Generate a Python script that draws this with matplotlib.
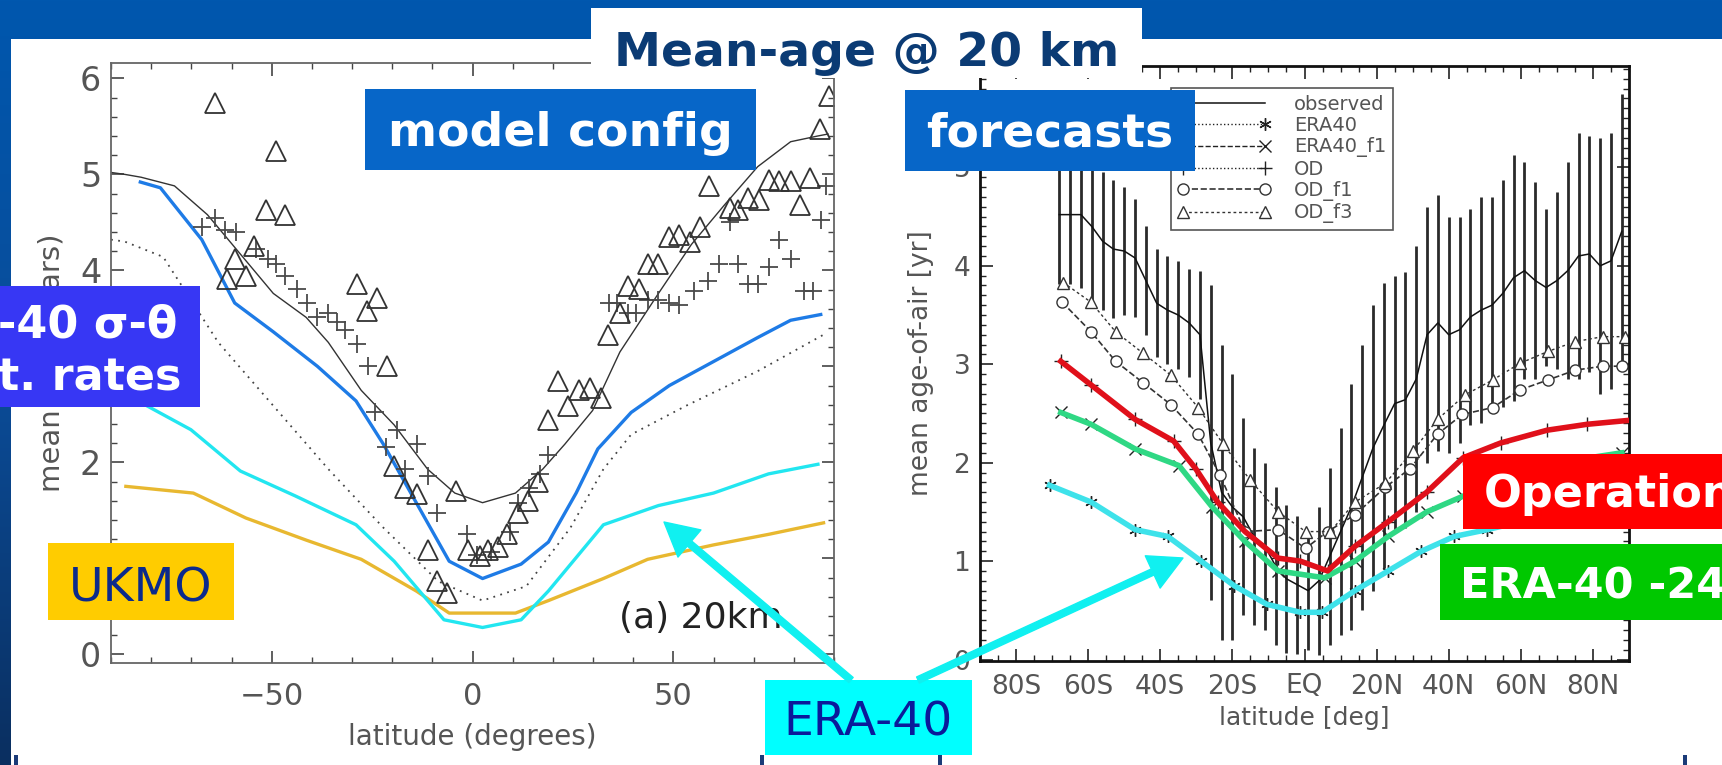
import matplotlib.pyplot as plt
import numpy as np
from matplotlib.colors import LinearSegmentedColormap
from matplotlib.patches import FancyArrowPatch, Rectangle
from matplotlib.ticker import FixedLocator, MultipleLocator

plt.rcParams["font.family"] = ["DejaVu Sans", "Noto Sans"]

W, H = 1722, 765

# ---- left panel: model configurations (lat in degrees, mean age in years)
cfg_black_lat = [-90, -86.6, -82.5, -74.2, -66.0, -57.8, -49.6, -41.4, -35.9, -27.7, -19.5, -11.2,
                 -4.4, 2.5, 10.7, 17.5, 23.0, 29.9, 36.7, 46.3, 54.5, 62.7, 71.0, 79.2, 86.0, 88.5]
cfg_black_val = [5.02, 5.00, 4.97, 4.88, 4.58, 4.17, 3.76, 3.51, 3.25, 2.75, 2.39, 1.93,
                 1.68, 1.58, 1.68, 1.93, 2.19, 2.54, 3.15, 3.76, 4.27, 4.68, 5.08, 5.34, 5.40, 5.42]

cfg_dot_lat = [-90, -86.6, -77.0, -63.3, -49.6, -35.9, -22.2, -8.5, 2.5, 13.4, 24.4, 32.6, 39.5, 53.2, 71.0, 87.4]
cfg_dot_val = [4.32, 4.30, 4.14, 3.25, 2.59, 1.93, 1.32, 0.76, 0.56, 0.71, 1.32, 1.93, 2.29, 2.59, 2.95, 3.33]

cfg_blue_lat = [-82.7, -77.7, -67.4, -59.2, -49.6, -38.6, -29.0, -22.2, -14.0, -5.8, 2.5, 12.1,
                18.9, 25.8, 31.2, 39.5, 49.0, 60.0, 71.0, 79.2, 86.7]
cfg_blue_val = [4.92, 4.86, 4.32, 3.66, 3.36, 3.00, 2.64, 2.19, 1.58, 0.97, 0.79, 0.94,
                1.17, 1.68, 2.14, 2.52, 2.80, 3.05, 3.30, 3.48, 3.54]

cfg_cyan_lat = [-86.0, -81.1, -70.1, -57.8, -44.1, -29.0, -19.5, -7.1, 2.5, 12.1, 18.9, 32.6, 46.3, 60.0, 73.7, 86.0]
cfg_cyan_val = [2.75, 2.59, 2.34, 1.91, 1.65, 1.35, 0.97, 0.36, 0.28, 0.36, 0.66, 1.35, 1.55, 1.68, 1.88, 1.98]

cfg_ukmo_lat = [-86.3, -69.5, -56.4, -41.4, -27.7, -14.0, -5.8, 10.7, 18.9, 32.6, 43.6, 60.0, 73.7, 87.4]
cfg_ukmo_val = [1.75, 1.68, 1.42, 1.19, 0.99, 0.66, 0.43, 0.43, 0.56, 0.79, 0.99, 1.14, 1.25, 1.37]

obs_tri_lat = [-64.0, -48.9, -51.4, -46.6, -59.2, -61.2, -56.4, -54.4, -28.8, -23.8, -26.3, -21.2,
               -19.5, -16.7, -13.7, -11.2, -8.9, -6.4, -4.0, -1.0, 1.8, 3.8, 6.3, 8.6, 11.4, 13.7,
               16.2, 18.9, 21.4, 23.7, 26.4, 29.2, 31.9, 33.7, 36.7, 38.8, 41.5, 43.6, 46.3, 49.0,
               51.5, 54.2, 56.6, 58.9, 64.1, 66.2, 68.6, 71.4, 73.7, 76.4, 79.2, 81.6, 84.0, 86.4, 88.8]
obs_tri_val = [5.74, 5.24, 4.63, 4.58, 4.12, 3.91, 3.94, 4.25, 3.86, 3.71, 3.58, 3.00,
               1.96, 1.73, 1.67, 1.09, 0.76, 0.64, 1.70, 1.09, 1.02, 1.09, 1.12, 1.25, 1.47, 1.60,
               1.80, 2.44, 2.85, 2.59, 2.75, 2.77, 2.67, 3.33, 3.56, 3.84, 3.81, 4.07, 4.07, 4.35,
               4.37, 4.30, 4.45, 4.88, 4.65, 4.63, 4.75, 4.73, 4.94, 4.93, 4.93, 4.68, 4.96, 5.47, 5.82]

obs_plus_lat = [-67.4, -64.0, -61.6, -58.9, -54.0, -51.0, -48.9, -46.6, -43.8, -41.1, -38.6, -35.9,
                -33.8, -31.8, -28.8, -26.0, -24.2, -21.5, -18.8, -16.7, -13.7, -11.2, -8.8, -1.4,
                1.1, 4.5, 9.3, 11.4, 14.1, 16.8, 18.9, 34.0, 36.0, 38.8, 40.8, 43.6, 46.3, 49.0,
                51.5, 55.2, 58.6, 61.4, 64.1, 66.2, 68.5, 71.0, 73.7, 76.4, 79.2, 82.6, 84.7, 86.7, 88.1]
obs_plus_val = [4.45, 4.55, 4.42, 4.40, 4.22, 4.12, 4.07, 3.94, 3.81, 3.66, 3.51, 3.56,
                3.46, 3.38, 3.23, 3.00, 2.52, 2.16, 2.34, 1.93, 2.19, 1.86, 1.47, 1.25,
                1.04, 1.07, 1.27, 1.58, 1.73, 1.88, 2.08, 3.66, 3.66, 3.56, 3.56, 3.69, 3.69, 3.66,
                3.64, 3.79, 3.89, 4.07, 4.50, 4.07, 3.86, 3.86, 4.04, 4.32, 4.12, 3.79, 3.79, 4.52, 4.88]

# ---- right panel: forecasts
obs_lat = [-68, -65, -62, -59, -56, -53, -50, -47, -44, -41, -38, -35, -32, -29, -26, -23, -20, -17,
           -14, -11, -8, -5, -2, 1, 4, 7, 10, 13, 16, 19, 22, 25, 28, 31, 34, 37, 40, 43, 46, 49,
           52, 55, 58, 61, 64, 67, 70, 73, 76, 79, 82, 85, 88]
obs_val = [4.52, 4.52, 4.52, 4.40, 4.25, 4.17, 4.15, 4.08, 3.85, 3.62, 3.55, 3.50, 3.42, 3.30, 2.20,
           1.70, 1.55, 1.45, 1.25, 1.15, 0.95, 0.82, 0.76, 0.70, 0.80, 1.05, 1.30, 1.55, 1.85, 2.15,
           2.38, 2.60, 2.64, 2.85, 3.30, 3.42, 3.30, 3.35, 3.48, 3.55, 3.60, 3.72, 3.88, 3.95, 3.85,
           3.78, 3.85, 3.95, 4.10, 4.12, 4.00, 4.05, 4.35]
obs_err = [0.70, 0.70, 0.75, 0.75, 0.70, 0.70, 0.65, 0.60, 0.55, 0.55, 0.55, 0.55, 0.55, 0.65, 1.60,
           1.50, 1.35, 1.00, 0.90, 0.85, 0.80, 0.75, 0.70, 0.60, 0.75, 0.90, 1.05, 1.25, 1.35, 1.45,
           1.45, 1.30, 1.30, 1.35, 1.30, 1.30, 1.20, 1.15, 1.10, 1.15, 1.10, 1.15, 1.25, 1.10, 1.00,
           0.80, 0.90, 1.10, 1.25, 1.20, 1.30, 1.30, 1.40]

era40_lat = [-70.7, -59.2, -47.0, -37.9, -28.7, -19.5, -10.4, -1.2, 4.9, 14.0, 23.2, 32.4, 41.5, 50.7, 60.0, 75.0, 88.0]
era40_val = [1.77, 1.60, 1.32, 1.25, 1.00, 0.75, 0.56, 0.48, 0.48, 0.70, 0.90, 1.10, 1.25, 1.32, 1.40, 1.50, 1.60]

era40f1_lat = [-67.6, -59.2, -47.0, -34.8, -25.6, -16.5, -7.3, 5.6, 14.0, 23.2, 33.9, 44.0, 55.0, 70.0, 88.0]
era40f1_val = [2.51, 2.39, 2.14, 1.97, 1.55, 1.20, 0.90, 0.83, 1.00, 1.25, 1.50, 1.66, 1.85, 2.00, 2.10]

od_lat = [-67.6, -59.2, -47.0, -36.3, -30.2, -24.1, -16.5, -7.3, -1.2, 6.4, 14.0, 23.2, 33.9, 44.0, 54.4, 67.3, 78.4, 90.0]
od_val = [3.03, 2.79, 2.44, 2.22, 1.94, 1.60, 1.30, 1.03, 1.00, 0.90, 1.15, 1.40, 1.70, 2.05, 2.20, 2.33, 2.39, 2.43]

odf1_lat = [-67.2, -59.2, -52.4, -44.7, -37.1, -29.5, -23.4, -16.5, -7.3, 0.3, 6.4, 14.0, 22.4, 29.3,
            36.9, 43.8, 52.2, 59.8, 67.5, 75.1, 82.7, 88.1]
odf1_val = [3.63, 3.33, 3.03, 2.81, 2.59, 2.29, 1.87, 1.30, 1.32, 1.13, 1.30, 1.47, 1.75, 1.94,
            2.29, 2.49, 2.56, 2.74, 2.84, 2.94, 2.98, 2.98]

odf3_lat = [-66.9, -59.2, -52.4, -44.7, -37.1, -29.5, -22.6, -15.0, -7.3, 0.3, 7.2, 14.0, 22.4, 30.1,
            36.9, 44.6, 52.2, 59.8, 67.5, 75.1, 82.7, 88.9]
odf3_val = [3.83, 3.63, 3.33, 3.11, 2.89, 2.56, 2.19, 1.82, 1.50, 1.30, 1.30, 1.60, 1.79, 2.12,
            2.44, 2.69, 2.84, 3.01, 3.13, 3.23, 3.28, 3.28]

right_ticks = [-80, -60, -40, -20, 0, 20, 40, 60, 80]
right_ticklabels = ["80S", "60S", "40S", "20S", "EQ", "20N", "40N", "60N", "80N"]

GREY = "#555555"


def px_axes(x0, y0, x1, y1):
    # pixel box (top-left origin) -> figure fraction rect
    return [x0 / W, 1 - y1 / H, (x1 - x0) / W, (y1 - y0) / H]


def style_axes(ax, frame_col, frame_w, tick_col, minor_y):
    for sp in ax.spines.values():
        sp.set_color(frame_col)
        sp.set_linewidth(frame_w)
    ax.yaxis.set_minor_locator(MultipleLocator(minor_y))
    ax.tick_params(which="both", direction="in", top=True, right=True, color=tick_col)
    ax.tick_params(which="major", length=9, width=1.2)
    ax.tick_params(which="minor", length=4.5, width=1.0)


fig = plt.figure(figsize=(W / 100, H / 100), dpi=100)

# slide background
bg = fig.add_axes([0, 0, 1, 1], zorder=-10)
bg.set_xlim(0, W)
bg.set_ylim(H, 0)
bg.axis("off")
slide = LinearSegmentedColormap.from_list("slide", ["#0057AE", "#0A4C98", "#0B2F60"])
bg.imshow(np.linspace(0, 1, 256).reshape(-1, 1), extent=[0, W, H, 0], cmap=slide, aspect="auto")
bg.add_patch(Rectangle((11, 39), W - 11, H - 39, facecolor="white", edgecolor="none"))
for bx in [16, 762, 940, 1685]:
    bg.add_patch(Rectangle((bx - 2, 755), 4, 10, facecolor="#1B3B78", edgecolor="none"))

# ---- left panel
ax1 = fig.add_axes(px_axes(111, 63, 834, 663))
ax1.set_facecolor("none")
ax1.plot(cfg_black_lat, cfg_black_val, color="#333333", lw=1.0)
ax1.plot(cfg_dot_lat, cfg_dot_val, color="#444444", lw=1.3, ls=(0, (1, 3)))
ax1.plot(cfg_ukmo_lat, cfg_ukmo_val, color="#E8B830", lw=2.4)
ax1.plot(cfg_cyan_lat, cfg_cyan_val, color="#22E6F0", lw=2.4)
ax1.plot(cfg_blue_lat, cfg_blue_val, color="#1E7BE6", lw=2.4)
ax1.plot(obs_plus_lat, obs_plus_val, ls="none", marker="+", ms=13, mew=1.3, color="#4a4a4a")
ax1.plot(obs_tri_lat, obs_tri_val, ls="none", marker="^", ms=14, mew=1.3, mfc="none", mec="#333333")
ax1.text(36.5, 0.38, "(a) 20km", fontsize=26, color="#222222", va="center")
ax1.set_xlim(-90, 90)
ax1.set_ylim(-0.09, 6.16)
ax1.set_xticks([-50, 0, 50])
ax1.xaxis.set_minor_locator(MultipleLocator(10))
ax1.set_yticks(range(0, 7))
style_axes(ax1, "#666666", 1.3, "#444444", 0.2)
ax1.tick_params(axis="x", labelsize=22, labelcolor=GREY, pad=14)
ax1.tick_params(axis="y", labelsize=24, labelcolor=GREY, pad=7)
ax1.set_xlabel("latitude (degrees)", fontsize=20, color=GREY, labelpad=8)
ax1.set_ylabel("mean age (years)", fontsize=21, color=GREY, labelpad=10)

# ---- right panel
ax2 = fig.add_axes(px_axes(980, 66, 1629, 661))
ax2.set_facecolor("none")
obs_lo = [v - e for v, e in zip(obs_val, obs_err)]
obs_hi = [v + e for v, e in zip(obs_val, obs_err)]
ax2.vlines(obs_lat, obs_lo, obs_hi, color="#2a2a2a", lw=2.0, zorder=1)
ax2.plot(obs_lat, obs_val, color="#111111", lw=1.1, zorder=2, label="observed")
ax2.plot(era40_lat, era40_val, color="#222222", lw=1.0, ls=":", marker=(6, 2, 0), ms=9,
         zorder=2, label="ERA40")
ax2.plot(era40f1_lat, era40f1_val, color="#222222", lw=1.0, ls="--", marker="x", ms=8,
         zorder=2, label="ERA40_f1")
ax2.plot(od_lat, od_val, color="#222222", lw=1.0, ls=":", marker="+", ms=10, zorder=2, label="OD")
ax2.plot(odf1_lat, odf1_val, color="#333333", lw=1.2, ls="--", marker="o", ms=8, mfc="white",
         zorder=2, label="OD_f1")
ax2.plot(odf3_lat, odf3_val, color="#333333", lw=1.0, ls=(0, (2, 2)), marker="^", ms=9, mfc="white",
         zorder=2, label="OD_f3")
ax2.plot(era40_lat, era40_val, color="#3EE2EA", lw=4, zorder=3)
ax2.plot(era40f1_lat, era40f1_val, color="#2FD884", lw=4, zorder=3)
ax2.plot(od_lat, od_val, color="#E0101A", lw=4, zorder=3)
ax2.set_xlim(-90, 90)
ax2.set_ylim(-0.015, 6.03)
ax2.xaxis.set_major_locator(FixedLocator(right_ticks))
ax2.set_xticklabels(right_ticklabels)
ax2.xaxis.set_minor_locator(MultipleLocator(5))
ax2.set_yticks(range(0, 6))
style_axes(ax2, "#111111", 2.0, "#222222", 0.1)
ax2.tick_params(axis="x", labelsize=19, labelcolor=GREY, pad=9)
ax2.tick_params(axis="y", labelsize=19, labelcolor=GREY, pad=7)
ax2.set_xlabel("latitude [deg]", fontsize=18, color=GREY, labelpad=5)
ax2.set_ylabel("mean age-of-air [yr]", fontsize=19, color=GREY, labelpad=14)
leg = ax2.legend(loc="upper left", bbox_to_anchor=(0.294, 0.963), fontsize=14, labelcolor=GREY,
                 numpoints=2, handlelength=4.8, handletextpad=1.2, labelspacing=0.12,
                 borderpad=0.35, borderaxespad=0, fancybox=False, edgecolor="#555555", framealpha=1)
leg.get_frame().set_linewidth(1.2)
leg.set_zorder(5)

# ---- slide annotations on top
ov = fig.add_axes([0, 0, 1, 1], zorder=10)
ov.set_xlim(0, W)
ov.set_ylim(H, 0)
ov.axis("off")
ov.patch.set_alpha(0)


def label_box(x0, y0, x1, y1, color):
    ov.add_patch(Rectangle((x0, y0), x1 - x0, y1 - y0, facecolor=color, edgecolor="none"))


def label_text(x, y, s, color, bold=True, ha="center", size=34):
    ov.text(x, y, s, ha=ha, va="baseline", fontsize=size, color=color,
            fontweight="bold" if bold else "normal", clip_on=True)


label_box(591, 8, 1142, 78, "white")
label_text(867, 66, "Mean-age @ 20 km", "#0B3B74")

label_box(365, 89, 756, 170, "#0766C8")
label_text(560, 146, "model config", "white")

label_box(905, 90, 1195, 171, "#0766C8")
label_text(1050, 146, "forecasts", "white")

label_box(0, 286, 200, 407, "#3737F4")
label_text(-2, 337, "-40 σ-θ", "white", ha="left", size=32)
label_text(-2, 390, "t. rates", "white", ha="left", size=32)

label_box(48, 543, 234, 620, "#FFCC00")
label_text(141, 601, "UKMO", "#0B2A8C", bold=False)

label_box(765, 680, 972, 755, "#00FFFF")
label_text(868, 735, "ERA-40", "#0B1A9A", bold=False)

label_box(1463, 454, W, 529, "#FF0000")
label_text(1484, 507, "Operational", "white", ha="left", size=32)

label_box(1440, 544, W, 620, "#00C800")
label_text(1460, 598, "ERA-40 -24h", "white", ha="left", size=31)

for tail, head in [((851, 680), (664, 522)), ((918, 680), (1183, 558))]:
    ov.add_patch(FancyArrowPatch(tail, head, arrowstyle="simple,head_length=1.5,head_width=1.6,tail_width=0.3",
                                 mutation_scale=16, color="#10F0F0", shrinkA=0, shrinkB=0))

fig.savefig("out.png", dpi=100)
